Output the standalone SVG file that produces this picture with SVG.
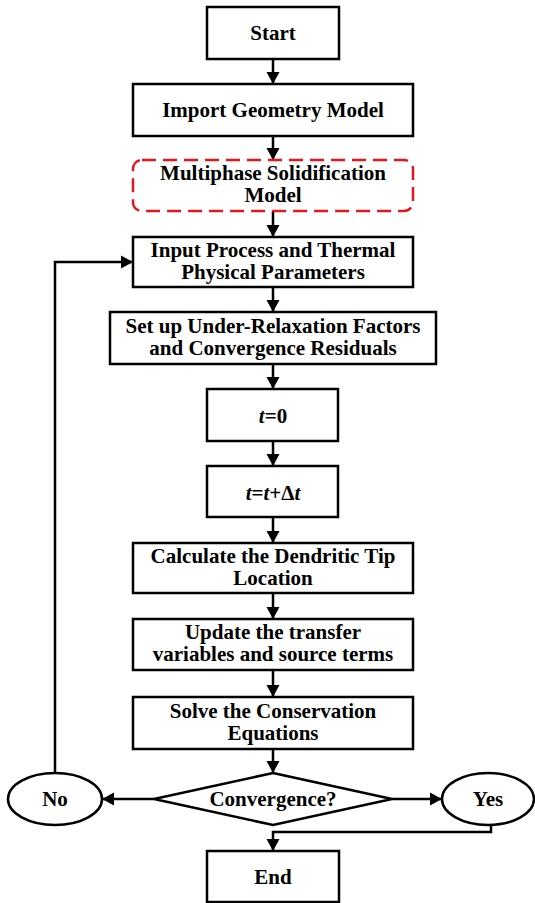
<svg xmlns="http://www.w3.org/2000/svg" width="535" height="903" viewBox="0 0 535 903">
<style>
.box{fill:#fff;stroke:#000;stroke-width:2.5}
.dash{fill:#fff;stroke:#e8141c;stroke-width:2.5;stroke-dasharray:14 7}
.t{font-family:"Liberation Serif","Times New Roman",serif;font-weight:bold;font-size:21px;fill:#000;text-anchor:middle}
.c{fill:none;stroke:#000;stroke-width:2.5}
</style>
<defs>
<marker id="ah" markerUnits="userSpaceOnUse" markerWidth="14" markerHeight="14" refX="12" refY="7" orient="auto">
<path d="M0,0.5 L12,7 L0,13.5 z" fill="#000"/>
</marker>
</defs>
<rect width="535" height="903" fill="#fff"/>
<g id="connectors">
<line class="c" x1="273" y1="59" x2="273" y2="84" marker-end="url(#ah)"/>
<line class="c" x1="273" y1="136" x2="273" y2="160" marker-end="url(#ah)"/>
<line class="c" x1="273" y1="211" x2="273" y2="237" marker-end="url(#ah)"/>
<line class="c" x1="273" y1="287" x2="273" y2="312" marker-end="url(#ah)"/>
<line class="c" x1="273" y1="364" x2="273" y2="389" marker-end="url(#ah)"/>
<line class="c" x1="273" y1="441" x2="273" y2="466" marker-end="url(#ah)"/>
<line class="c" x1="273" y1="517" x2="273" y2="543" marker-end="url(#ah)"/>
<line class="c" x1="273" y1="593" x2="273" y2="619" marker-end="url(#ah)"/>
<line class="c" x1="273" y1="670" x2="273" y2="697" marker-end="url(#ah)"/>
<line class="c" x1="273" y1="749" x2="273" y2="773" marker-end="url(#ah)"/>
<line class="c" x1="154" y1="799" x2="102" y2="799" marker-end="url(#ah)"/>
<line class="c" x1="392" y1="799" x2="442" y2="799" marker-end="url(#ah)"/>
<polyline class="c" points="491,825 491,832 273,832 273,851" marker-end="url(#ah)"/>
<polyline class="c" points="55,773 55,262 133,262" marker-end="url(#ah)"/>
</g>
<g id="start">
<rect class="box" x="207" y="7" width="132" height="52"/>
<text class="t" x="273" y="40">Start</text>
</g>
<g id="import">
<rect class="box" x="133" y="84" width="280" height="52"/>
<text class="t" x="273" y="117">Import Geometry Model</text>
</g>
<g id="multiphase">
<rect class="dash" x="133" y="160" width="280" height="51" rx="9" ry="9"/>
<text class="t" x="273" y="179.5">Multiphase Solidification</text>
<text class="t" x="273" y="201.5">Model</text>
</g>
<g id="input">
<rect class="box" x="133" y="237" width="280" height="50"/>
<text class="t" x="273" y="256.5">Input Process and Thermal</text>
<text class="t" x="273" y="278.5">Physical Parameters</text>
</g>
<g id="setup">
<rect class="box" x="110" y="312" width="326" height="52"/>
<text class="t" x="273" y="332.5">Set up Under-Relaxation Factors</text>
<text class="t" x="273" y="354.5">and Convergence Residuals</text>
</g>
<g id="t0">
<rect class="box" x="207" y="389" width="131" height="52"/>
<text class="t" x="273" y="423"><tspan font-style="italic">t</tspan>=0</text>
</g>
<g id="tdt">
<rect class="box" x="207" y="466" width="131" height="51"/>
<text class="t" x="273" y="499.5"><tspan font-style="italic">t</tspan>=<tspan font-style="italic">t</tspan>+Δ<tspan font-style="italic">t</tspan></text>
</g>
<g id="calc">
<rect class="box" x="133" y="543" width="280" height="50"/>
<text class="t" x="273" y="562.5">Calculate the Dendritic Tip</text>
<text class="t" x="273" y="584.5">Location</text>
</g>
<g id="update">
<rect class="box" x="133" y="619" width="280" height="51"/>
<text class="t" x="273" y="639">Update the transfer</text>
<text class="t" x="273" y="661">variables and source terms</text>
</g>
<g id="solve">
<rect class="box" x="133" y="697" width="280" height="52"/>
<text class="t" x="273" y="717.5">Solve the Conservation</text>
<text class="t" x="273" y="739.5">Equations</text>
</g>
<g id="convergence">
<polygon class="box" points="273,773 392,799 273,825 154,799"/>
<text class="t" x="273" y="806">Convergence?</text>
</g>
<g id="no">
<ellipse class="box" cx="55" cy="799" rx="47" ry="26"/>
<text class="t" x="55" y="806">No</text>
</g>
<g id="yes">
<ellipse class="box" cx="488" cy="799" rx="46" ry="26"/>
<text class="t" x="488" y="806">Yes</text>
</g>
<g id="end">
<rect class="box" x="207" y="851" width="132" height="51"/>
<text class="t" x="273" y="884">End</text>
</g>
</svg>
